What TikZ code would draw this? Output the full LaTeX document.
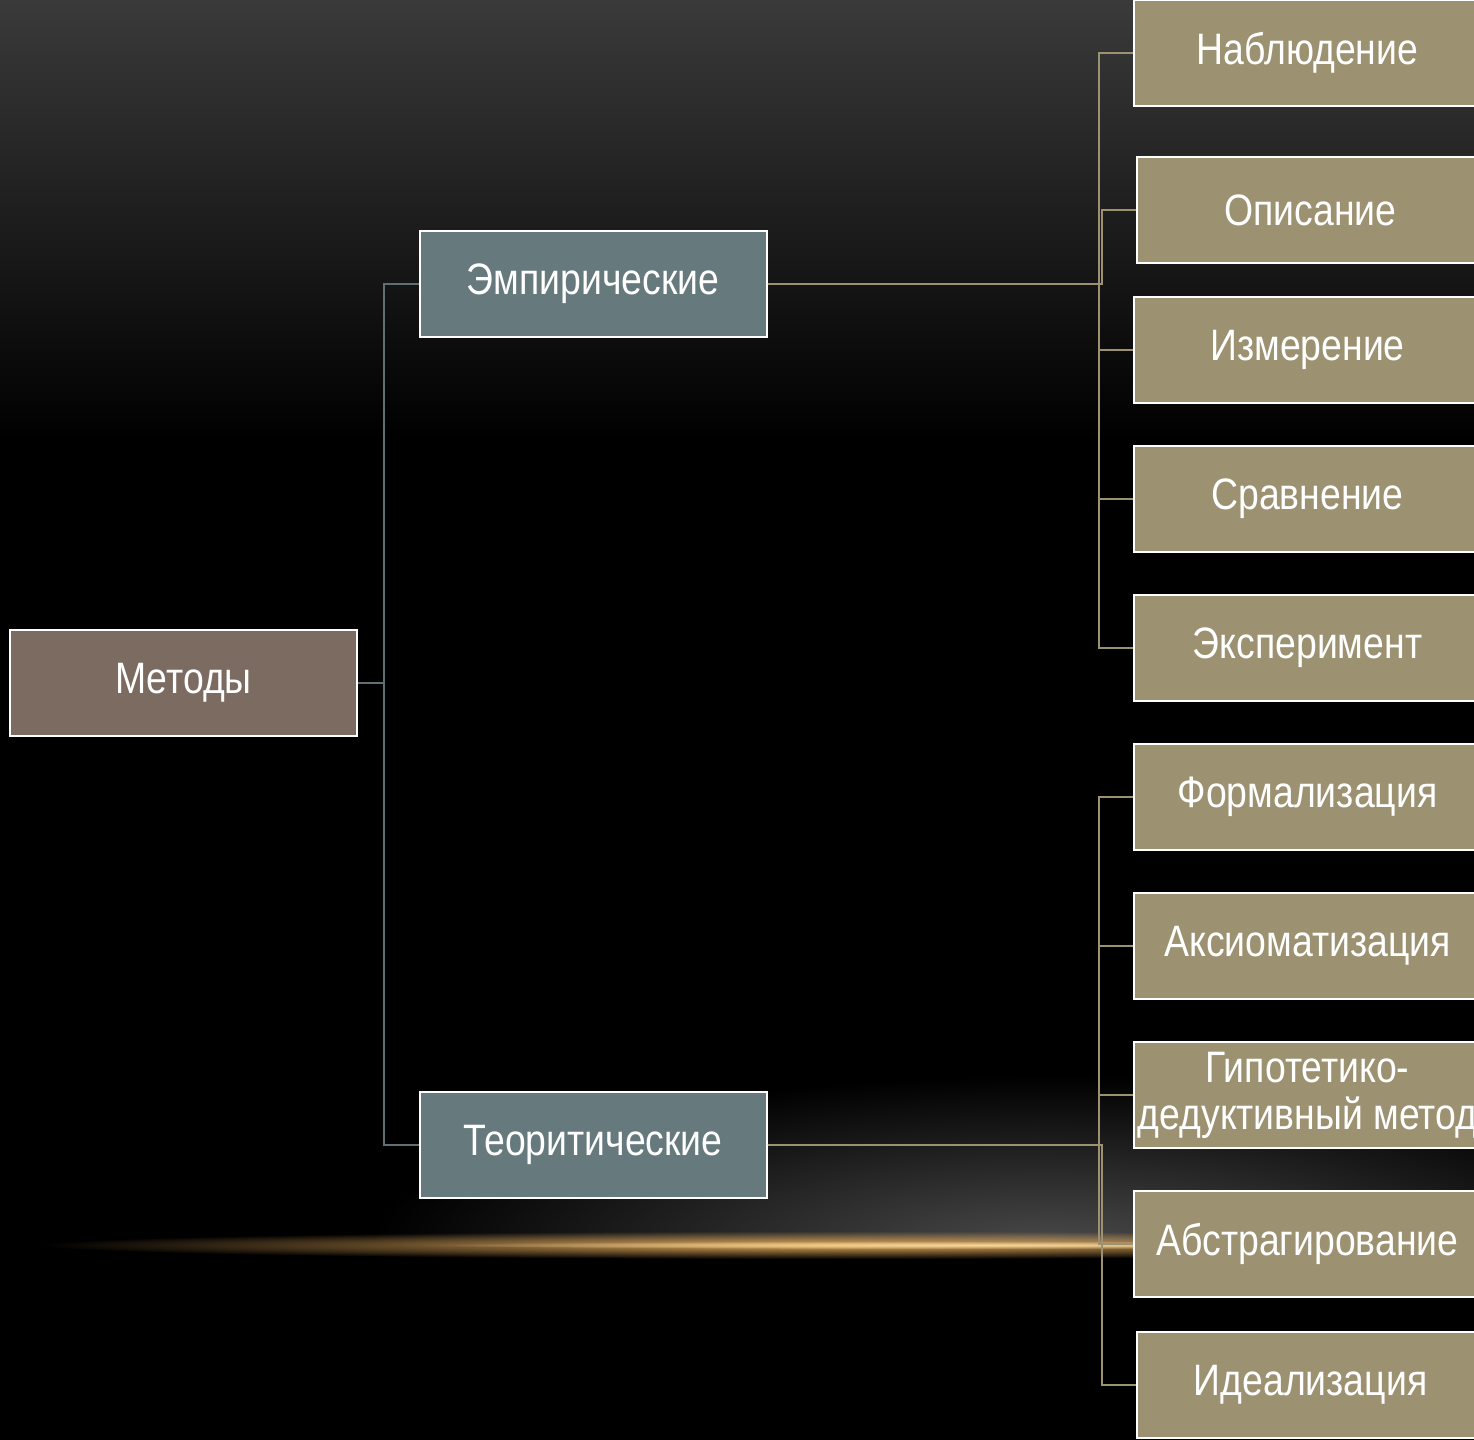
\documentclass[tikz,border=0pt]{standalone}
\usepackage{fontspec}
\setmainfont[FakeStretch=0.85]{Liberation Sans}
\usetikzlibrary{fadings}
\definecolor{bgtop}{HTML}{3A3A3A}
\definecolor{rootfill}{HTML}{7B6B60}
\definecolor{midfill}{HTML}{66797C}
\definecolor{leaffill}{HTML}{9C9170}
\definecolor{midline}{HTML}{5E7074}
\definecolor{glowgray}{HTML}{4A4A4A}
\definecolor{glowgold}{HTML}{E0A85A}
\definecolor{glowcore}{HTML}{F6D69A}
\tikzfading[name=glowfade, inner color=transparent!0, outer color=transparent!100]
\tikzset{
  box/.style={draw=white, line width=1pt, text=white, minimum width=173.5pt,
    minimum height=53pt, inner sep=0pt, align=center,
    font=\fontsize{22}{23.5}\selectfont},
  rootbox/.style={box, fill=rootfill},
  midbox/.style={box, fill=midfill},
  leafbox/.style={box, fill=leaffill},
  midlink/.style={draw=midline, line width=1pt},
  leaflink/.style={draw=leaffill, line width=1pt}
}

\begin{document}
\begin{tikzpicture}[x=0.5pt, y=-0.5pt]
      %%%%% BACKGROUND %%%%%
      \useasboundingbox (0, 0) rectangle (1474, 1440);
      \clip (0, 0) rectangle (1474, 1440);
      \fill[black] (0, 0) rectangle (1474, 1440);
      \shade[top color=bgtop, bottom color=black] (0, 0) rectangle (1474, 440);

      \begin{scope}
        \clip (0, 0) rectangle (1474, 1246);
        \fill[glowgray, path fading=glowfade] (1050, 1245) ellipse (680 and 170);
      \end{scope}
      \fill[glowgold, path fading=glowfade] (840, 1245) ellipse (800 and 14);
      \fill[glowcore, path fading=glowfade] (980, 1245) ellipse (560 and 4);

      %%%%% NODES %%%%%
      \node[rootbox] (met) at (183.5, 683) {Методы};

      \node[midbox] (emp) at (593, 284) {Эмпирические};
      \node[midbox] (teo) at (593, 1145) {Теоритические};

      \node[leafbox] (nab) at (1307.5, 52.5) {Наблюдение};
      \node[leafbox] (opi) at (1310.5, 210) {Описание};
      \node[leafbox] (izm) at (1307.5, 350) {Измерение};
      \node[leafbox] (srv) at (1307.5, 499) {Сравнение};
      \node[leafbox] (eks) at (1307.5, 648) {Эксперимент};

      \node[leafbox] (frm) at (1307.5, 797) {Формализация};
      \node[leafbox] (aks) at (1307.5, 946) {Аксиоматизация};
      \node[leafbox] (gip) at (1307.5, 1095) {\makebox[0pt]{Гипотетико-}\\\makebox[0pt]{дедуктивный метод}};
      \node[leafbox] (abs) at (1307.5, 1244) {Абстрагирование};
      \node[leafbox] (ide) at (1310.5, 1385) {Идеализация};

      %%%%% LINKS %%%%%
      \foreach \kid in {emp, teo}
        \draw[midlink] (met.east) -| ([xshift=-17.5pt]\kid.west) -- (\kid.west);

      \foreach \kid in {nab, opi, izm, srv, eks}
        \draw[leaflink] (emp.east) -| ([xshift=-17pt]\kid.west) -- (\kid.west);

      \foreach \kid in {frm, aks, gip, abs, ide}
        \draw[leaflink] (teo.east) -| ([xshift=-17pt]\kid.west) -- (\kid.west);
\end{tikzpicture}
\end{document}
